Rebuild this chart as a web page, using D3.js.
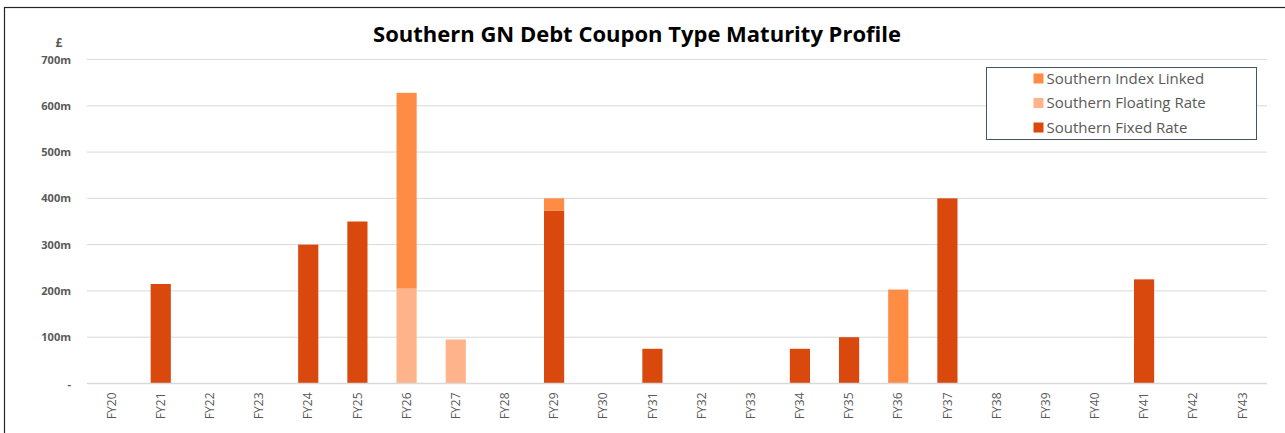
<!DOCTYPE html>
<html>
<head>
<meta charset="utf-8">
<script src="https://cdn.jsdelivr.net/npm/d3@7"></script>
<style>
  body { margin: 0; background: #fff; }
  svg { display: block; font-family: "Open Sans", "Noto Sans", sans-serif; }
</style>
</head>
<body>
<div id="chart"></div>
<script>
// categories and series (in £m)
const years = ["FY20","FY21","FY22","FY23","FY24","FY25","FY26","FY27","FY28","FY29","FY30","FY31",
               "FY32","FY33","FY34","FY35","FY36","FY37","FY38","FY39","FY40","FY41","FY42","FY43"];
const fixedRate    = [0, 215, 0, 0, 300, 350, 0,   0, 0, 373, 0, 75, 0, 0, 75, 100, 0,   400, 0, 0, 0, 225, 0, 0];
const floatingRate = [0, 0,   0, 0, 0,   0,   205, 95, 0, 0,  0, 0,  0, 0, 0,  0,   0,   0,   0, 0, 0, 0,   0, 0];
const indexLinked  = [0, 0,   0, 0, 0,   0,   423, 0, 0, 27,  0, 0,  0, 0, 0,  0,   203, 0,   0, 0, 0, 0,   0, 0];
const yTicks = [0, 100, 200, 300, 400, 500, 600, 700];

const seriesKeys = ["fixed", "floating", "index"];
const seriesNames = { fixed: "Southern Fixed Rate", floating: "Southern Floating Rate", index: "Southern Index Linked" };
const colors = { fixed: "#D9480D", floating: "#FFB38A", index: "#FF8C45" };

const table = years.map((y, i) => ({ year: y, fixed: fixedRate[i], floating: floatingRate[i], index: indexLinked[i] }));

const W = 1285, H = 433;
const margin = { top: 59.5, right: 18, bottom: 49.5, left: 87 };
const width = W - margin.left - margin.right;
const height = H - margin.top - margin.bottom;

const svg = d3.select("#chart").append("svg").attr("width", W).attr("height", H);

// outer frame (only top/left visible in the picture)
svg.append("rect")
  .attr("x", 4.5).attr("y", 7.5).attr("width", W + 10).attr("height", H + 10)
  .attr("fill", "none").attr("stroke", "#262626").attr("stroke-width", 1.2);

const g = svg.append("g").attr("transform", `translate(${margin.left},${margin.top})`);

const xScale = d3.scaleBand().domain(years).range([0, width]).paddingInner(0.59).paddingOuter(0.295);
const yScale = d3.scaleLinear().domain([0, 700]).range([height, 0]);

// gridlines
g.append("g").selectAll("line").data(yTicks.filter(d => d > 0)).join("line")
  .attr("x1", 0).attr("x2", width)
  .attr("y1", d => yScale(d)).attr("y2", d => yScale(d))
  .attr("stroke", "#D9D9D9").attr("stroke-width", 1);

// y axis labels
const yAxis = d3.axisLeft(yScale).tickValues(yTicks).tickSize(0).tickPadding(16)
  .tickFormat(d => d === 0 ? "-" : d + "m");
const yAxisGroup = g.append("g").call(yAxis);
yAxisGroup.select(".domain").remove();
yAxisGroup.selectAll("text").attr("fill", "#595959").style("font-size", "11px").style("font-weight", "bold")
  .style("font-family", "'Open Sans', sans-serif");

svg.append("text").attr("x", 59).attr("y", 47).attr("text-anchor", "middle")
  .attr("fill", "#595959").style("font-size", "12px").style("font-weight", "bold").text("£");

// stacked bars
const stack = d3.stack().keys(seriesKeys);
const stacked = stack(table);

g.append("g").selectAll("g").data(stacked).join("g")
  .attr("fill", d => colors[d.key])
  .selectAll("rect").data(d => d.filter(p => p[1] > p[0])).join("rect")
  .attr("x", d => xScale(d.data.year))
  .attr("width", xScale.bandwidth())
  .attr("y", d => yScale(d[1]))
  .attr("height", d => yScale(d[0]) - yScale(d[1]));

// x axis
g.append("line").attr("x1", 0).attr("x2", width).attr("y1", height).attr("y2", height)
  .attr("stroke", "#D9D9D9").attr("stroke-width", 1.5);

const xAxis = d3.axisBottom(xScale).tickSize(0).tickPadding(0);
const xAxisGroup = g.append("g").attr("transform", `translate(0,${height})`).call(xAxis);
xAxisGroup.select(".domain").remove();
xAxisGroup.selectAll("text")
  .attr("transform", "rotate(-90)")
  .attr("x", -9).attr("y", 0).attr("dy", "0.35em")
  .attr("text-anchor", "end")
  .attr("fill", "#595959").style("font-size", "12px")
  .style("font-family", "'Open Sans', sans-serif");

// title
svg.append("text").attr("x", 637).attr("y", 42).attr("text-anchor", "middle")
  .attr("fill", "#000").style("font-size", "22px").style("font-weight", "bold")
  .text("Southern GN Debt Coupon Type Maturity Profile");

// legend
const legend = svg.append("g").attr("transform", "translate(986.5,67.5)");
legend.append("rect").attr("width", 270).attr("height", 72)
  .attr("fill", "#fff").attr("stroke", "#44546A").attr("stroke-width", 1);
const legendOrder = ["index", "floating", "fixed"];
legend.selectAll("g.item").data(legendOrder).join("g").attr("class", "item")
  .attr("transform", (d, i) => `translate(47,${11 + i * 24.5})`)
  .each(function (d) {
    const item = d3.select(this);
    item.append("rect").attr("x", 0).attr("y", -5).attr("width", 10).attr("height", 10).attr("fill", colors[d]);
    item.append("text").attr("x", 13).attr("y", 0).attr("dy", "0.35em")
      .attr("fill", "#595959").style("font-size", "15px").text(seriesNames[d]);
  });
</script>
</body>
</html>
